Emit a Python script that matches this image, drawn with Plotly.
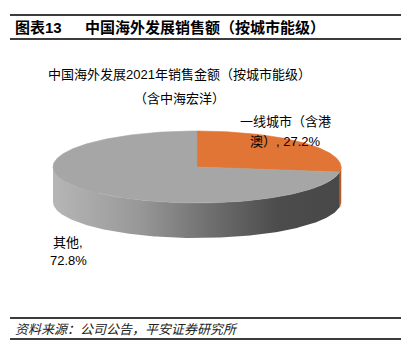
import numpy as np
import plotly.graph_objects as go

# ---------------- data ----------------
categories = ["一线城市（含港澳）", "其他"]
values = [27.2, 72.8]
label_names = ["一线城市（含港<br>澳）", "其他"]
label_seps = [", ", ",<br>"]
header_tag = "图表13"
header_title = "中国海外发展销售额（按城市能级）"
chart_title = ["中国海外发展2021年销售金额（按城市能级）", "（含中海宏洋）"]
source_text = "资料来源：公司公告，平安证券研究所"

# ---------------- style ----------------
top_colors = ["#E07535", "#A6A6A6"]
side_colors = ["#B65B27", None]
side_gradient = [[0.0, "#B6B6B6"], [0.3, "#989898"], [0.55, "#6E6E6E"],
                 [0.78, "#4C4C4C"], [1.0, "#484848"]]
CJK = "Liberation Sans, Arial, 'Noto Sans CJK SC', sans-serif"

W, H = 413, 353
CX, CY, A, B, D = 197, 167, 144, 36, 35
label_pos = [(285, [121, 141]), (68, [242, 260])]

fig = go.Figure()

total = sum(values)
angles = []
s = 0.0
for v in values:
    e = s + v / total * 360.0
    angles.append((s, e))
    s = e


def arc(a0, a1, n=240, dy=0.0):
    th = np.radians(np.linspace(a0, a1, n))
    return CX + A * np.sin(th), CY - B * np.cos(th) + dy


# side walls (front half: 90..270 deg clockwise from top)
for i, (a0, a1) in enumerate(angles):
    lo, hi = max(a0, 90.0), min(a1, 270.0)
    if hi <= lo:
        continue
    xt, yt = arc(lo, hi)
    xb, yb = arc(hi, lo, dy=D)
    xs = np.concatenate([xt, xb, xt[:1]])
    ys = np.concatenate([yt, yb, yt[:1]])
    if side_colors[i]:
        fig.add_trace(go.Scatter(x=xs, y=ys, mode="lines", fill="toself",
                                 fillcolor=side_colors[i],
                                 line=dict(width=0.5, color=side_colors[i]),
                                 hoverinfo="skip", showlegend=False))
    else:
        fig.add_trace(go.Scatter(x=xs, y=ys, mode="lines", fill="toself",
                                 fillgradient=dict(type="horizontal",
                                                   colorscale=side_gradient,
                                                   start=CX - A, stop=CX + A),
                                 line=dict(width=0),
                                 hoverinfo="skip", showlegend=False))

# top faces
for i, (a0, a1) in enumerate(angles):
    xa, ya = arc(a0, a1)
    xs = np.concatenate([[CX], xa, [CX]])
    ys = np.concatenate([[CY], ya, [CY]])
    fig.add_trace(go.Scatter(x=xs, y=ys, mode="lines", fill="toself",
                             fillcolor=top_colors[i],
                             line=dict(width=0.6, color=top_colors[i]),
                             hoverinfo="skip", showlegend=False))

annotations = []
# header
annotations.append(dict(x=13, y=27, text="<b>" + header_tag + "</b>", xanchor="left",
                        yanchor="middle", showarrow=False,
                        font=dict(family=CJK, size=15, color="#000")))
annotations.append(dict(x=83, y=27, text="<b>" + header_title + "</b>", xanchor="left",
                        yanchor="middle", showarrow=False,
                        font=dict(family=CJK, size=15, color="#000")))
# chart title
for t, yy in zip(chart_title, [74, 98]):
    annotations.append(dict(x=179, y=yy, text=t, xanchor="center", yanchor="middle",
                            showarrow=False, font=dict(family=CJK, size=13, color="#000")))
# data labels
for i, v in enumerate(values):
    txt = label_names[i] + label_seps[i] + f"{v:.1f}%"
    lines = txt.split("<br>")
    lx, lys = label_pos[i]
    for ln, yy in zip(lines, lys):
        annotations.append(dict(x=lx, y=yy, text=ln, xanchor="center", yanchor="middle",
                                showarrow=False,
                                font=dict(family=CJK, size=13, color="#000")))
# source
annotations.append(dict(x=13, y=329, text="<i>" + source_text + "</i>", xanchor="left",
                        yanchor="middle", showarrow=False,
                        font=dict(family=CJK, size=13, color="#222")))

shapes = []
for yy in [15, 39, 318, 339]:
    shapes.append(dict(type="line", x0=10, x1=401, y0=yy, y1=yy, xref="x", yref="y",
                       line=dict(color="#3C3C3C", width=2)))

fig.update_layout(
    width=W, height=H,
    margin=dict(l=0, r=0, t=0, b=0),
    paper_bgcolor="white", plot_bgcolor="white",
    xaxis=dict(range=[0, W], visible=False, fixedrange=True),
    yaxis=dict(range=[H, 0], visible=False, fixedrange=True),
    annotations=annotations, shapes=shapes,
    showlegend=False, hovermode=False,
)

fig.write_html("out.html", config={"displayModeBar": False})
